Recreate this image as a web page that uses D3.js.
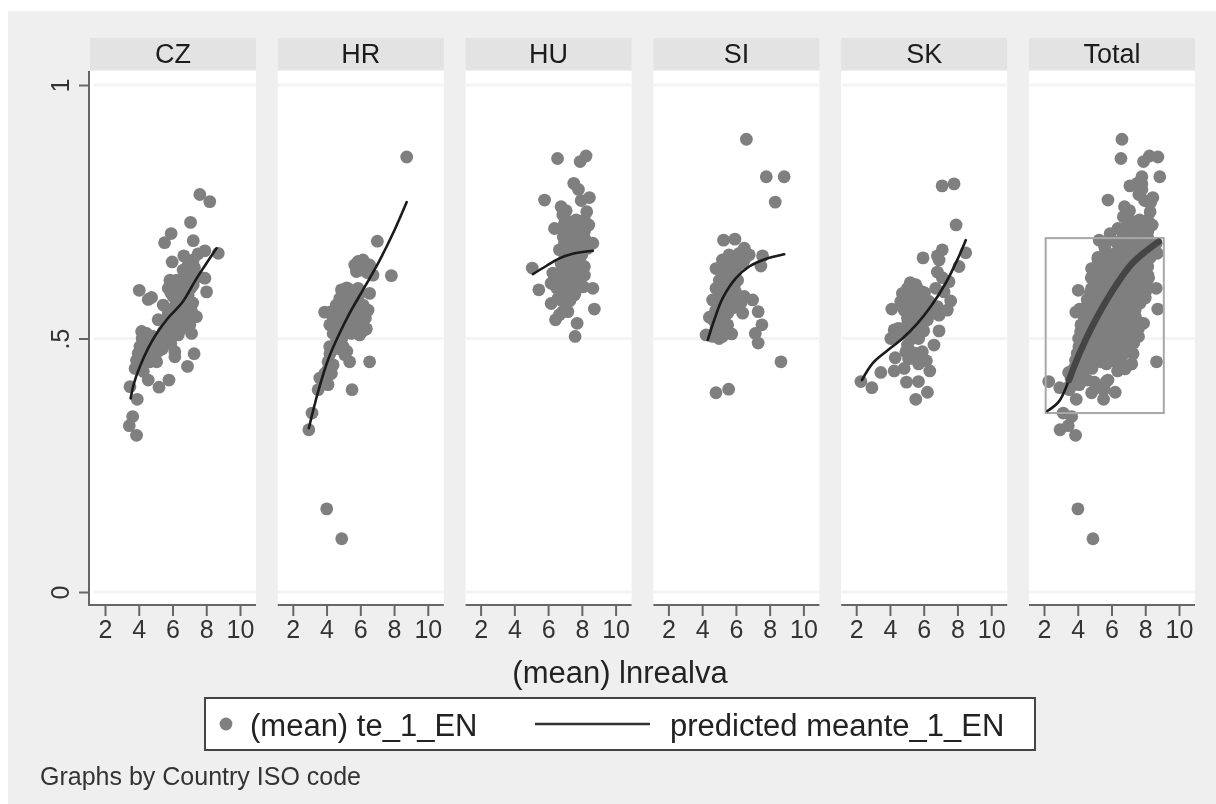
<!DOCTYPE html>
<html><head><meta charset="utf-8">
<script src="https://cdn.jsdelivr.net/npm/d3@7"></script>
<style>html,body{margin:0;padding:0;background:#fff}svg{display:block;font-family:"Liberation Sans",Arial,sans-serif;filter:blur(0.35px)}</style>
</head><body><svg id="c" width="1216" height="804"></svg>
<script>
const panelNames = ["CZ","HR","HU","SI","SK","Total"];
const xTicks = [2,4,6,8,10];
const yTicks = [0,0.5,1];
const yTickLabels = ["0",".5","1"];
const czPoints = [[7.62,.784],[8.21,.770],[7.07,.729],[5.92,.707],[5.53,.689],[7.23,.693],[5.98,.651],[6.67,.663],[7.23,.655],[7.92,.673],[7.52,.667],[8.71,.668],[4.03,.595],[4.76,.581],[4.56,.577],[8.02,.592],[7.92,.619],[5.45,.566],[5.15,.537],[7.13,.510],[6.14,.474],[6.14,.464],[7.28,.470],[6.89,.445],[5.79,.418],[5.2,.404],[4.56,.418],[4.27,.435],[3.78,.441],[3.48,.405],[3.91,.380],[3.64,.346],[3.44,.328],[3.87,.309],[4.17,.514],[4.47,.510],[5.85,.615],[6.24,.615],[6.73,.625],[7.12,.632],[7.52,.622],[5.75,.599],[6.24,.599],[6.73,.602],[7.23,.606],[6.04,.583],[6.54,.586],[7.03,.569],[6.93,.586],[6.14,.563],[6.63,.553],[7.13,.553],[7.42,.543],[5.75,.550],[6.24,.543],[6.73,.533],[7.03,.527],[5.65,.530],[6.14,.523],[6.54,.520],[5.45,.514],[5.85,.507],[6.34,.507],[5.25,.497],[5.65,.494],[4.96,.484],[5.25,.477],[4.47,.487],[4.07,.484],[4.66,.471],[3.97,.471],[5.06,.454],[4.66,.454],[4.27,.454],[3.87,.457],[4.86,.504],[6.93,.645],[6.63,.635],[5.9,.59],[6.4,.575],[6.7,.57],[5.95,.555],[6.4,.54],[6.9,.545],[5.5,.535],[5.9,.525],[6.3,.52],[5.5,.5],[5.9,.49],[5,.5],[4.8,.49],[4.5,.47],[4.3,.47],[4.8,.47],[5,.47],[5.4,.48],[4.2,.5],[4.1,.46],[6,.6],[6.5,.61],[7,.62],[7.3,.64],[7.1,.6],[6.5,.565],[6.9,.56],[7.2,.57]];
const hrPoints = [[7.01,.692],[7.84,.624],[6.55,.454],[5.51,.399],[2.95,.320],[3.14,.353],[3.5,.399],[3.6,.422],[4.09,.409],[4.29,.431],[4.09,.454],[4.39,.448],[3.89,.431],[5.37,.454],[5.08,.468],[4.19,.484],[4.98,.484],[4.58,.491],[4.78,.504],[4.39,.510],[5.87,.652],[6.16,.655],[6.55,.645],[5.77,.632],[6.75,.625],[6.16,.642],[5.67,.645],[4.88,.596],[5.37,.596],[5.87,.599],[6.55,.589],[4.78,.579],[5.27,.579],[5.77,.579],[4.58,.566],[5.08,.563],[5.57,.563],[6.16,.566],[6.46,.556],[3.89,.552],[4.29,.553],[4.68,.550],[4.19,.527],[4.58,.533],[5.08,.540],[6.16,.537],[6.36,.519],[5.96,.507],[5.47,.510],[5.08,.520],[5.57,.543],[5.96,.546],[4.01,.164],[4.9,.105],[8.75,.858],[5.1,.58],[5.5,.58],[5.2,.6],[4.7,.56],[4.9,.56],[5.3,.56],[5.8,.55],[6,.56],[6.3,.54],[4.4,.54],[4.8,.54],[5.3,.535],[4.5,.52],[4.8,.52],[5.3,.525],[5.5,.52],[5.9,.525],[6.15,.515],[4.7,.48],[4.6,.5],[4.9,.5],[4.1,.44],[4.2,.43],[3.85,.41],[4.2,.47],[5.9,.585],[5.6,.59],[6,.635],[6.4,.63],[5.2,.475]];
const huPoints = [[6.56,.855],[7.9,.849],[8.25,.860],[7.52,.806],[7.8,.794],[5.79,.773],[8.45,.778],[7.96,.772],[6.77,.760],[7.07,.752],[6.87,.744],[8.29,.750],[7.66,.734],[8.15,.734],[6.97,.727],[8.41,.724],[6.38,.717],[6.87,.715],[7.36,.717],[8.15,.711],[7.07,.701],[7.56,.701],[8.15,.698],[8.65,.688],[6.97,.688],[7.46,.685],[6.67,.675],[7.17,.671],[7.76,.678],[8.35,.678],[5.06,.639],[6.28,.629],[6.77,.648],[7.27,.652],[7.76,.652],[8.15,.642],[6.67,.629],[7.17,.632],[7.66,.632],[8.15,.625],[6.18,.609],[6.77,.612],[7.27,.612],[7.86,.615],[6.97,.596],[7.56,.586],[8.09,.602],[8.65,.599],[5.45,.596],[6.18,.569],[7.07,.566],[6.87,.553],[7.17,.553],[6.44,.537],[8.74,.558],[7.72,.530],[7.6,.504],[6.67,.547],[7.36,.592],[6.9,.7],[7.3,.7],[7.7,.72],[7.3,.68],[7.8,.69],[7,.66],[7.5,.66],[6.9,.635],[7.4,.64],[7.9,.635],[6.5,.625],[6.9,.615],[7.5,.61],[6.5,.6],[7,.6],[7.3,.59],[6.6,.58],[7.3,.575],[7.7,.6],[7,.58],[6.8,.575],[7.5,.72],[7.9,.71],[7.2,.73],[7.7,.66],[8,.665],[6.4,.61],[7.6,.59]];
const siPoints = [[6.62,.893],[7.8,.819],[8.86,.819],[8.33,.769],[5.27,.694],[5.94,.696],[6.5,.678],[6.2,.668],[6.79,.665],[7.58,.663],[7.48,.643],[5.2,.655],[4.82,.638],[5.51,.645],[5.9,.652],[6.4,.648],[5.31,.625],[6,.632],[5.02,.615],[5.61,.615],[6.1,.615],[4.82,.599],[5.41,.599],[5.9,.602],[4.62,.576],[5.2,.579],[5.71,.573],[6.5,.583],[6.99,.576],[6.1,.569],[6.4,.550],[7.32,.553],[4.43,.542],[5.02,.556],[5.51,.550],[5.12,.537],[5.51,.527],[4.82,.520],[5.2,.517],[5.75,.509],[5.2,.504],[4.23,.507],[4.62,.504],[7.54,.527],[7.15,.510],[7.32,.491],[8.67,.454],[4.82,.393],[5.57,.400],[5.6,.665],[6.1,.65],[6.5,.655],[5.1,.64],[5.6,.63],[5.9,.625],[5.2,.6],[5.7,.6],[5.5,.585],[4.9,.58],[5.5,.565],[4.8,.555],[5.2,.56],[5.8,.56],[4.7,.535],[5.3,.54],[4.9,.54],[4.7,.51],[5,.52],[5.4,.51],[5,.5],[6.3,.57],[5,.6],[6,.59]];
const skPoints = [[7.09,.801],[7.8,.805],[7.92,.724],[5.96,.659],[6.81,.663],[7.1,.675],[6.91,.655],[8.49,.669],[6.81,.631],[8.09,.642],[7.5,.612],[6.71,.599],[7.21,.592],[5.53,.606],[5.04,.599],[4.74,.589],[5.33,.592],[5.92,.592],[4.64,.573],[5.23,.576],[5.82,.576],[6.32,.573],[4.11,.558],[4.84,.556],[5.43,.556],[6.02,.556],[5.04,.540],[5.63,.540],[6.22,.537],[6.81,.563],[7.6,.574],[7.4,.556],[6.91,.546],[4.25,.517],[4.05,.500],[5.33,.520],[5.82,.520],[4.84,.510],[5.53,.504],[6.91,.515],[6.61,.487],[5.04,.487],[4.94,.474],[5.43,.471],[5.92,.474],[5.33,.461],[5.82,.458],[6.16,.456],[4.31,.462],[3.46,.433],[4.25,.436],[4.84,.441],[6.36,.436],[4.98,.414],[5.69,.415],[6.22,.394],[5.53,.380],[2.28,.415],[2.93,.403],[5.2,.61],[4.9,.58],[5.4,.58],[5.6,.6],[5,.56],[5.6,.56],[5.2,.54],[5.4,.53],[5,.525],[5.8,.55],[6.2,.55],[5.6,.52],[5.3,.5],[5.7,.5],[6,.515],[5.1,.46],[5.6,.47],[5.2,.475],[5.7,.45],[6.6,.55],[6.2,.565],[6.05,.59],[4.3,.505],[4.5,.52],[7.1,.62]];
const totalExtraPoints = [[7.4,.56],[7.7,.57],[7.9,.53],[7.6,.52],[7.3,.5],[7,.49],[6.7,.47],[6.5,.455],[6.9,.5],[7.2,.53],[8,.58],[8.2,.62],[8.3,.66],[6.4,.48],[6.2,.5],[6.8,.53],[6.6,.51],[7.5,.6],[8,.64],[6.8,.44],[7.2,.45],[4.8,.62],[5.2,.66],[5.5,.63],[6.3,.69],[6.7,.7],[5.6,.68],[6.7,.74]];
const czFit = [[3.52,.382],[3.72,.412],[4.07,.445],[4.56,.481],[5.06,.510],[5.75,.541],[6.6,.572],[7.42,.618],[8.61,.678]];
const hrFit = [[2.95,.323],[3.5,.395],[4.09,.458],[4.68,.504],[5.37,.550],[6.16,.596],[7.05,.648],[8.03,.714],[8.75,.769]];
const huFit = [[5.1,.627],[5.89,.643],[6.67,.658],[7.46,.667],[8.65,.673]];
const siFit = [[4.33,.497],[4.72,.537],[5.21,.579],[6,.619],[6.79,.642],[7.68,.656],[8.86,.666]];
const skFit = [[2.34,.418],[2.97,.451],[3.76,.474],[4.74,.500],[5.63,.530],[6.42,.563],[7.3,.609],[7.99,.655],[8.49,.694]];
const totalFit = [[2.2,.357],[2.89,.376],[3.48,.418],[4.07,.468],[4.86,.524],[6.04,.593],[7.22,.648],[8.8,.691]];
const totalBoxX = [2.1,9.1];
const totalBoxY = [.353,.698];
const allPoints = [czPoints,hrPoints,huPoints,siPoints,skPoints,[].concat(czPoints,hrPoints,huPoints,siPoints,skPoints,totalExtraPoints)];
const allFits = [czFit,hrFit,huFit,siFit,skFit,totalFit];

const svg = d3.select("#c");
svg.append("rect").attr("x",8).attr("y",11).attr("width",1208).attr("height",793).attr("fill","#efefef");
const defs = svg.append("defs");
defs.append("filter").attr("id","soft").attr("x","-5%").attr("y","-5%").attr("width","110%").attr("height","110%")
  .append("feGaussianBlur").attr("stdDeviation",0.7);
const W=166, T=71, B=605, STEP=187.8, L0=90;
const y = d3.scaleLinear().domain([0,1]).range([592,85]);
const line = d3.line().x(d=>d[0]).y(d=>d[1]).curve(d3.curveCatmullRom);
panelNames.forEach((name,i)=>{
  const left = L0+STEP*i;
  const x = d3.scaleLinear().domain([2,10]).range([left+15,left+150]);
  const g = svg.append("g");
  g.append("rect").attr("x",left).attr("y",38).attr("width",W).attr("height",32).attr("fill","#e3e3e3");
  g.append("text").attr("x",left+W/2).attr("y",63).attr("text-anchor","middle").attr("font-size",27).attr("fill","#1c1c1c").text(name);
  g.append("rect").attr("x",left).attr("y",T).attr("width",W).attr("height",B-T).attr("fill","#fff");
  g.selectAll("line.grid").data(yTicks).join("line").attr("class","grid")
    .attr("x1",left+(i==0?4:0)).attr("x2",left+W).attr("y1",d=>y(d)).attr("y2",d=>y(d))
    .attr("stroke","#f4f4f4").attr("stroke-width",3);
  const m = g.append("g").attr("filter","url(#soft)");
  m.selectAll("circle").data(allPoints[i]).join("circle")
    .attr("cx",d=>x(d[0])).attr("cy",d=>y(d[1])).attr("r",6.4).attr("fill","#7f7f7f");
  if(i==5){
    m.append("rect").attr("x",x(totalBoxX[0])).attr("y",y(totalBoxY[1]))
      .attr("width",x(totalBoxX[1])-x(totalBoxX[0])).attr("height",y(totalBoxY[0])-y(totalBoxY[1]))
      .attr("fill","none").attr("stroke","#a8a8a8").attr("stroke-width",2);
  }
  const toPx = a => a.map(d=>[x(d[0]),y(d[1])]);
  m.append("path").attr("d",line(toPx(allFits[i]))).attr("fill","none")
    .attr("stroke","#1a1a1a").attr("stroke-width",2.6).attr("stroke-linecap","round");
  if(i==5){
    m.append("path").attr("d",line(toPx(allFits[i].slice(2)))).attr("fill","none")
      .attr("stroke","#444").attr("stroke-width",6.5).attr("stroke-linecap","round");
  }
  const ax = g.append("g").attr("transform",`translate(0,${B})`)
    .call(d3.axisBottom(x).tickValues(xTicks).tickSize(11).tickPadding(4).tickFormat(d3.format("d")));
  ax.select(".domain").remove();
  ax.append("line").attr("x1",left).attr("x2",left+W).attr("stroke","#666").attr("stroke-width",2);
  ax.selectAll(".tick line").attr("stroke","#666").attr("stroke-width",2);
  ax.selectAll(".tick text").attr("font-size",25).attr("fill","#333").attr("font-family","Liberation Sans");
});
// y axis
const ya = svg.append("g").attr("transform",`translate(89,0)`)
  .call(d3.axisLeft(y).tickValues(yTicks).tickSize(10).tickFormat((d,i)=>yTickLabels[i]));
ya.select(".domain").remove();
ya.append("line").attr("y1",T).attr("y2",B+1).attr("stroke","#666").attr("stroke-width",2);
ya.selectAll(".tick line").attr("stroke","#666").attr("stroke-width",2);
ya.selectAll(".tick text").attr("font-size",25).attr("fill","#333").attr("font-family","Liberation Sans")
  .attr("text-anchor","middle").attr("dy",0).attr("x",0).attr("y",0)
  .attr("transform","translate(-29,0) rotate(-90) translate(0,9)");
svg.append("text").attr("x",620).attr("y",683).attr("text-anchor","middle").attr("font-size",31).attr("fill","#222").text("(mean) lnrealva");
// legend
svg.append("rect").attr("x",205).attr("y",698).attr("width",830).attr("height",52).attr("fill","#fff").attr("stroke","#444").attr("stroke-width",2);
svg.append("circle").attr("cx",226).attr("cy",724).attr("r",6.4).attr("fill","#7f7f7f");
svg.append("text").attr("x",250).attr("y",736).attr("font-size",31).attr("fill","#222").text("(mean) te_1_EN");
svg.append("line").attr("x1",535).attr("x2",650).attr("y1",724).attr("y2",724).attr("stroke","#333").attr("stroke-width",2.4);
svg.append("text").attr("x",670).attr("y",736).attr("font-size",31).attr("fill","#222").text("predicted meante_1_EN");
svg.append("text").attr("x",40).attr("y",785).attr("font-size",25).attr("fill","#333").text("Graphs by Country ISO code");
</script></body></html>
